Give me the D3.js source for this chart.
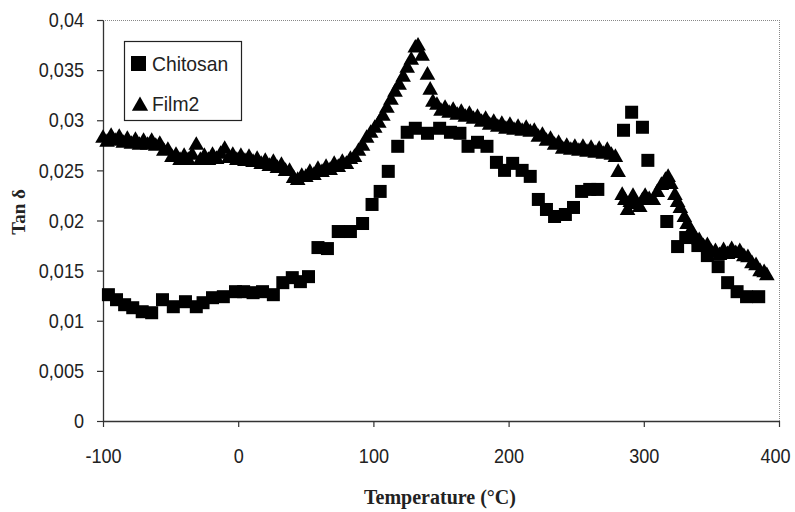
<!DOCTYPE html>
<html>
<head>
<meta charset="utf-8">
<script src="https://cdn.jsdelivr.net/npm/d3@7"></script>
<style>
  html, body { margin: 0; padding: 0; background: #fff; }
  svg { display: block; }
  .tick text { font-family: "Liberation Sans", Arial, sans-serif; fill: #222; }
</style>
</head>
<body>
<svg id="chart" width="795" height="512"></svg>
<script>
// ---- data ----
const chitosanTemp = [-96,-90,-84,-78,-71,-64,-56,-48,-39,-31,-26,-19,-11,-2,4,11,18,26,33,40,46,52,59,66,74,83,92,99,105,111,118,125,131,140,149,157,164,170,177,184,191,197,203,210,216,222,228,234,242,248,254,260,266,285,291,299,303,317,325,331,340,347,355,362,369,376,385];
const chitosanTan = [0.0126,0.0121,0.0116,0.0113,0.0109,0.0108,0.0121,0.0114,0.0119,0.0114,0.0118,0.0123,0.0124,0.0129,0.0129,0.0128,0.0129,0.0126,0.0138,0.0143,0.0139,0.0144,0.0173,0.0172,0.0189,0.0189,0.0197,0.0216,0.0229,0.0249,0.0274,0.0288,0.0292,0.0287,0.0292,0.0288,0.0287,0.0274,0.0278,0.0274,0.0258,0.0250,0.0257,0.0250,0.0244,0.0221,0.0211,0.0204,0.0206,0.0213,0.0229,0.0231,0.0231,0.0290,0.0308,0.0293,0.0260,0.0199,0.0174,0.0183,0.0175,0.0165,0.0154,0.0138,0.0129,0.0124,0.0124];

const film2Temp = [-100,-97,-94,-91,-88,-85,-82,-79,-76,-73,-70,-67,-64,-61,-58,-55,-52,-49,-46,-43,-40,-37,-34,-31,-28,-25,-22,-19,-16,-13,-10,-7,-4,-1,2,5,8,11,14,17,20,23,26,29,32,35,38,41,44,47,50,53,56,59,62,65,68,71,74,77,80,83,86,89,92,95,98,101,104,107,110,113,116,119,122,125,128,131,133,136,140,142,144,147,150,153,156,159,162,165,168,171,174,177,180,183,186,189,192,195,198,201,204,207,210,213,216,219,222,225,228,231,234,237,240,243,246,249,252,255,258,261,264,267,270,273,276,279,281,284,286,288,290,292,295,297,299,301,304,307,310,313,316,318,320,323,325,327,330,332,335,338,341,344,347,350,353,356,359,362,365,368,371,374,377,380,383,386,389,391];
const film2Tan = [0.0282,0.0278,0.0284,0.0279,0.0283,0.0277,0.0281,0.0276,0.0280,0.0275,0.0279,0.0275,0.0279,0.0274,0.0276,0.0269,0.0270,0.0263,0.0265,0.0260,0.0264,0.0260,0.0265,0.0275,0.0260,0.0264,0.0260,0.0265,0.0261,0.0266,0.0271,0.0262,0.0265,0.0260,0.0264,0.0259,0.0263,0.0258,0.0261,0.0256,0.0259,0.0254,0.0258,0.0252,0.0255,0.0249,0.0249,0.0242,0.0240,0.0244,0.0243,0.0248,0.0245,0.0251,0.0248,0.0253,0.0250,0.0256,0.0253,0.0258,0.0256,0.0261,0.0263,0.0269,0.0274,0.0282,0.0287,0.0292,0.0297,0.0304,0.0312,0.0320,0.0328,0.0335,0.0343,0.0352,0.0360,0.0372,0.0374,0.0364,0.0345,0.0330,0.0318,0.0315,0.0309,0.0312,0.0307,0.0310,0.0305,0.0308,0.0303,0.0306,0.0301,0.0303,0.0298,0.0301,0.0295,0.0298,0.0293,0.0296,0.0291,0.0295,0.0290,0.0293,0.0289,0.0292,0.0288,0.0289,0.0283,0.0285,0.0279,0.0281,0.0275,0.0277,0.0271,0.0274,0.0270,0.0273,0.0269,0.0273,0.0268,0.0272,0.0267,0.0271,0.0266,0.0270,0.0265,0.0263,0.0248,0.0225,0.0220,0.0210,0.0218,0.0224,0.0216,0.0213,0.0220,0.0224,0.0221,0.0220,0.0228,0.0235,0.0240,0.0243,0.0236,0.0225,0.0218,0.0212,0.0203,0.0196,0.0190,0.0182,0.0180,0.0174,0.0175,0.0168,0.0169,0.0165,0.0170,0.0166,0.0171,0.0167,0.0169,0.0164,0.0163,0.0157,0.0155,0.0149,0.0148,0.0145];

const xTicks = [-100, 0, 100, 200, 300, 400];
const xTickLabels = ["-100", "0", "100", "200", "300", "400"];
const yTicks = [0, 0.005, 0.01, 0.015, 0.02, 0.025, 0.03, 0.035, 0.04];
const yTickLabels = ["0", "0,005", "0,01", "0,015", "0,02", "0,025", "0,03", "0,035", "0,04"];
const seriesNames = ["Chitosan", "Film2"];
const xTitle = "Temperature (°C)";
const yTitle = "Tan δ";

// ---- chart ----
const svg = d3.select("#chart");
const pLeft = 103, pRight = 779, pTop = 20, pBottom = 421;
const x = d3.scaleLinear().domain([-100, 400]).range([pLeft, pRight]);
const y = d3.scaleLinear().domain([0, 0.04]).range([pBottom, pTop]);

// plot frame (top / right dotted)
svg.append("line").attr("x1", pLeft).attr("x2", pRight).attr("y1", pTop + 0.5).attr("y2", pTop + 0.5)
  .attr("stroke", "#888").attr("stroke-width", 1).attr("stroke-dasharray", "1,1");
svg.append("line").attr("x1", pRight + 0.5).attr("x2", pRight + 0.5).attr("y1", pTop).attr("y2", pBottom)
  .attr("stroke", "#888").attr("stroke-width", 1).attr("stroke-dasharray", "1,1");

const xAxis = svg.append("g").attr("transform", `translate(0,${pBottom})`)
  .call(d3.axisBottom(x).tickValues(xTicks).tickFormat((d, i) => xTickLabels[i]).tickSize(6).tickSizeOuter(0).tickPadding(21));
const yAxis = svg.append("g").attr("transform", `translate(${pLeft},0)`)
  .call(d3.axisLeft(y).tickValues(yTicks).tickFormat((d, i) => yTickLabels[i]).tickSize(6).tickSizeOuter(0).tickPadding(13));
[xAxis, yAxis].forEach(g => {
  g.select(".domain").attr("stroke", "#333").attr("stroke-width", 1.3);
  g.selectAll(".tick line").attr("stroke", "#333").attr("stroke-width", 1.2);
  g.selectAll(".tick text").attr("font-size", 21).each(function () {
    const w = this.getComputedTextLength();
    d3.select(this).attr("textLength", w * 0.86).attr("lengthAdjust", "spacingAndGlyphs");
  });
});
// keep the last x label inside the picture
xAxis.selectAll(".tick text").filter((d, i) => i === xTicks.length - 1).attr("dx", -4);

// axis titles
svg.append("text").attr("x", 440).attr("y", 504).attr("text-anchor", "middle")
  .attr("font-family", "'Liberation Serif', 'DejaVu Serif', serif").attr("font-weight", "bold")
  .attr("font-size", 20).attr("fill", "#222").text(xTitle);
svg.append("text").attr("transform", "translate(25,212) rotate(-90)").attr("text-anchor", "middle")
  .attr("font-family", "'Liberation Serif', 'DejaVu Serif', serif").attr("font-weight", "bold")
  .attr("font-size", 19).attr("fill", "#222").text(yTitle);

// markers
const triType = {
  draw(ctx, size) {
    const w = Math.sqrt(size) * 1.15, h = w * 0.87;
    ctx.moveTo(0, -2 * h / 3);
    ctx.lineTo(w / 2, h / 3);
    ctx.lineTo(-w / 2, h / 3);
    ctx.closePath();
  }
};
const tri = d3.symbol().type(triType).size(185);
const sq = 13;
const film = svg.append("g");
film.selectAll("path").data(film2Temp.map((t, i) => [t, film2Tan[i]])).join("path")
  .attr("d", tri).attr("transform", d => `translate(${x(d[0])},${y(d[1])})`).attr("fill", "#000");
const chit = svg.append("g");
chit.selectAll("rect").data(chitosanTemp.map((t, i) => [t, chitosanTan[i]])).join("rect")
  .attr("x", d => x(d[0]) - sq / 2).attr("y", d => y(d[1]) - sq / 2)
  .attr("width", sq).attr("height", sq).attr("fill", "#000");

// legend
const lg = svg.append("g");
lg.append("rect").attr("x", 124.5).attr("y", 41.5).attr("width", 117).attr("height", 79)
  .attr("fill", "#fff").attr("stroke", "#222").attr("stroke-width", 1.2);
lg.append("rect").attr("x", 131).attr("y", 56).attr("width", 15).attr("height", 15).attr("fill", "#000");
lg.append("path").attr("d", d3.symbol().type(triType).size(200)).attr("transform", "translate(140,106)").attr("fill", "#000");
lg.selectAll("text.lab").data(seriesNames).join("text").attr("class", "lab")
  .attr("x", 152).attr("y", (d, i) => 71 + i * 40)
  .attr("font-family", "'Liberation Sans', Arial, sans-serif")
  .attr("font-size", 21).attr("fill", "#222").text(d => d)
  .each(function () {
    const w = this.getComputedTextLength();
    d3.select(this).attr("textLength", w * 0.92).attr("lengthAdjust", "spacingAndGlyphs");
  });
</script>
</body>
</html>
